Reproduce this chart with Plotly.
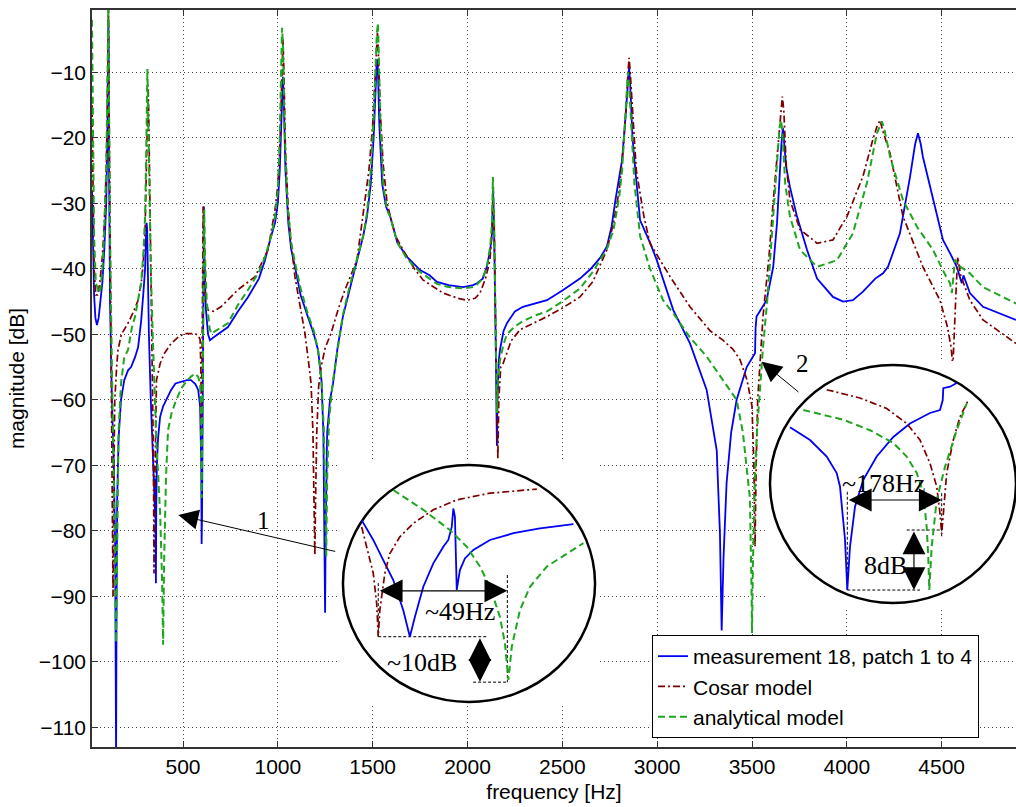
import plotly.graph_objects as go

# ---------------- main curves (frequency in Hz, magnitude in dB) ----------------
meas_f = [20, 25, 31, 38, 46, 55, 62, 75, 85, 95, 101, 104, 106, 108, 110, 115, 125, 135, 142, 145,
          147, 149, 153, 160, 173, 190, 210, 226, 247, 263, 279, 290, 300, 305, 308, 311, 314, 320, 330, 340,
          348, 352, 354, 355, 356, 357, 359, 362, 368, 379, 395, 420, 437, 460, 490, 520, 542, 565, 580, 590,
          596, 598, 600, 604, 607, 610, 613, 620, 632, 642, 660, 700, 737, 790, 843, 900, 932, 960, 985, 1000,
          1010, 1018, 1024, 1027, 1031, 1040, 1055, 1070, 1090, 1120, 1159, 1190, 1212, 1230, 1240, 1246, 1249, 1252, 1260, 1275,
          1291, 1315, 1343, 1380, 1417, 1450, 1470, 1490, 1505, 1515, 1522, 1527, 1535, 1550, 1570, 1592, 1630, 1681, 1750, 1800,
          1839, 1900, 1976, 2030, 2050, 2080, 2102, 2120, 2129, 2135, 2140, 2148, 2153, 2155, 2158, 2165, 2171, 2190, 2208, 2250,
          2292, 2350, 2419, 2500, 2593, 2650, 2700, 2735, 2760, 2780, 2800, 2815, 2830, 2842, 2852, 2858, 2870, 2885, 2910, 2962,
          2997, 3085, 3173, 3261, 3314, 3331, 3340, 3350, 3357, 3366, 3390, 3419, 3472, 3516, 3519, 3524, 3577, 3612, 3632, 3645,
          3655, 3663, 3670, 3680, 3700, 3737, 3790, 3843, 3927, 3980, 4032, 4085, 4150, 4191, 4217, 4280, 4333, 4360, 4375, 4390,
          4401, 4438, 4475, 4507, 4544, 4580, 4606, 4615, 4649, 4718, 4892]
meas_db = [-28, -38, -44, -47.5, -48.6, -47.5, -45.5, -42, -37, -30, -20, -8, -2, -6, -25, -45, -60, -70, -82, -95,
           -115, -95, -75, -66, -60, -57, -55.5, -55, -53.5, -52, -48, -44, -40, -35, -33, -34, -40, -50, -60, -68,
           -72, -77, -72, -78, -74, -88, -76, -70, -66, -62.6, -61, -59.5, -58.5, -57.5, -57.2, -57, -57, -57.6, -58.5, -61,
           -70, -82, -78, -60, -40, -30.5, -38, -46, -50, -50.9, -50.5, -49.6, -48.9, -46.5, -44.3, -41.5, -38.7, -35.5, -33, -30,
           -25, -18, -12, -10.7, -14, -25, -33, -37, -39.7, -44, -47.4, -50, -52.4, -57, -65, -78, -92.5, -80, -65, -60,
           -57.5, -52, -47.3, -43, -38.7, -35, -32, -27, -20, -13, -8, -9, -18, -27, -30.5, -32, -36, -38.2, -40.2, -41,
           -42, -42.5, -42.8, -42.5, -42.2, -41.5, -39.7, -37, -34.6, -28, -34, -50, -60, -67, -60, -54, -52.4, -49.5, -48.3, -46.5,
           -45.8, -45.3, -44.8, -43.3, -41.5, -40, -38.3, -36.6, -33.5, -29.5, -26, -23.4, -18, -13, -9.3, -12, -20, -25, -32.6, -36,
           -38.6, -46.3, -51.4, -58.5, -67.7, -80.4, -95.2, -84, -78, -72.7, -65, -60, -55, -52.9, -49, -47.3, -44.8, -39.7, -33, -26,
           -21, -18.5, -21, -24.4, -27.5, -32, -37.1, -41.5, -44.3, -45, -44.8, -43.5, -41.5, -40.7, -39.7, -34.6, -26, -21, -19.3, -21,
           -22.9, -27.5, -32, -35.6, -37.6, -39.7, -42.2, -41, -43.7, -45.8, -47.8]

cosar_f = [20, 25, 31, 40, 50, 62, 75, 85, 95, 100, 104, 107, 110, 115, 120, 125, 128, 131, 134, 140,
           150, 157, 175, 210, 240, 263, 280, 289, 300, 308, 313, 316, 319, 325, 332, 338, 342, 345, 347, 350,
           355, 360, 379, 400, 437, 480, 510, 563, 580, 590, 594, 597, 600, 603, 606, 610, 618, 632, 660, 700,
           790, 880, 948, 985, 1001, 1012, 1020, 1027, 1032, 1040, 1055, 1070, 1090, 1120, 1143, 1165, 1175, 1185, 1191, 1195,
           1199, 1205, 1215, 1228, 1250, 1280, 1320, 1354, 1417, 1449, 1480, 1500, 1512, 1520, 1525, 1530, 1540, 1555, 1576, 1620,
           1660, 1720, 1765, 1871, 1950, 1997, 2040, 2066, 2095, 2118, 2128, 2134, 2140, 2148, 2155, 2160, 2165, 2175, 2187, 2230,
           2277, 2350, 2419, 2500, 2593, 2660, 2735, 2770, 2800, 2820, 2835, 2846, 2852, 2858, 2870, 2890, 2930, 2962, 3068, 3173,
           3280, 3347, 3400, 3437, 3474, 3500, 3510, 3516, 3522, 3530, 3558, 3590, 3611, 3635, 3650, 3660, 3668, 3680, 3700, 3753,
           3843, 3927, 4001, 4085, 4140, 4159, 4175, 4190, 4228, 4296, 4401, 4491, 4530, 4550, 4559, 4568, 4578, 4585, 4600, 4649,
           4718, 4892]
cosar_db = [-15, -30, -40, -44, -44, -42, -38, -33, -25, -17, -5, 0, -15, -35, -48, -62, -75, -90, -75, -60,
            -55, -52.4, -50, -48.3, -46.5, -44.8, -42, -39.7, -34, -25, -15, -12, -16, -28, -40, -52, -65, -75, -86.5, -75,
            -62, -57, -54.5, -53, -51.4, -50.3, -49.9, -49.9, -50.2, -50.8, -55, -65, -55, -40, -30.5, -38, -45, -46.3, -46.5, -45.8,
            -43.2, -41.2, -37.1, -31, -27, -20, -10, -5, -10, -22, -31, -36, -41.2, -46, -49.9, -55, -57.5, -65, -75, -83.7,
            -75, -65, -58, -55, -52, -49.9, -46, -43.2, -38.7, -32, -25, -18, -11, -5, -4, -7, -16, -24, -30, -35,
            -37.1, -40, -41.7, -43.7, -44.5, -44.8, -44.5, -43.7, -41.5, -38.7, -35, -29, -32, -48, -60, -69, -60, -55, -54.5, -51,
            -49.3, -48.3, -47.3, -46, -44.3, -42, -37.1, -33, -28, -22, -16, -10, -7.8, -10, -16, -25, -32, -36.1, -41.2, -45.8,
            -49.5, -50.9, -52.3, -53.9, -57, -61, -70, -82.4, -70, -60, -47.3, -38, -30, -22, -16, -13.7, -16, -24, -29.5, -34,
            -36.1, -35.6, -32, -25.9, -20, -18.3, -17.3, -19, -22.4, -32, -39.7, -44.8, -48.8, -52, -55, -48, -42, -38.2, -41, -44.8,
            -47.8, -51.4]

anal_f = [20, 25, 31, 40, 55, 65, 75, 85, 95, 100, 104, 106, 109, 115, 125, 135, 142, 147, 152, 160,
          173, 190, 210, 230, 247, 263, 279, 290, 300, 306, 310, 312, 315, 320, 330, 340, 350, 360, 370, 380,
          390, 395, 400, 410, 421, 440, 458, 490, 510, 540, 563, 580, 590, 595, 598, 601, 605, 609, 612, 616,
          625, 640, 648, 700, 737, 790, 843, 900, 932, 965, 985, 1000, 1010, 1017, 1022, 1027, 1035, 1050, 1070, 1090,
          1120, 1159, 1190, 1212, 1230, 1243, 1250, 1255, 1260, 1270, 1291, 1320, 1343, 1380, 1417, 1450, 1470, 1490, 1505, 1515,
          1522, 1528, 1533, 1540, 1555, 1575, 1592, 1630, 1681, 1750, 1839, 1900, 1976, 2030, 2050, 2080, 2102, 2120, 2129, 2134,
          2140, 2148, 2155, 2160, 2171, 2190, 2208, 2250, 2292, 2350, 2419, 2500, 2593, 2660, 2735, 2770, 2800, 2815, 2830, 2840,
          2846, 2852, 2862, 2880, 2910, 2962, 3031, 3085, 3173, 3261, 3347, 3419, 3452, 3480, 3489, 3497, 3500, 3505, 3515, 3526,
          3558, 3580, 3611, 3630, 3645, 3653, 3660, 3675, 3700, 3753, 3843, 3948, 4032, 4106, 4159, 4185, 4200, 4228, 4296, 4370,
          4454, 4520, 4544, 4554, 4562, 4570, 4590, 4649, 4718, 4892]
anal_db = [-2, -20, -35, -42, -43.7, -43, -40, -34, -25, -15, -4, 0, -12, -35, -55, -70, -85, -97, -80, -65,
           -57.5, -53.5, -52.4, -49, -47.3, -44.5, -42.2, -38, -32, -22, -12, -9.5, -14, -25, -40, -50, -60, -67, -72, -78,
           -88, -97.4, -85, -72, -64.6, -62, -60.5, -58.3, -57.5, -56.5, -56, -56.5, -57.5, -62, -75, -62, -45, -33, -31, -38,
           -45, -49, -49.9, -49, -48.3, -45.5, -43.2, -40.5, -38.2, -35, -32, -28, -20, -10, -3.2, -6, -18, -30, -36, -39,
           -43, -47, -49.5, -52.5, -57, -65, -75, -84, -72, -63, -57, -51, -47, -42.5, -38.5, -35, -31.5, -25, -17, -9,
           -4, -2.5, -8, -17, -27, -31, -32, -36, -38.5, -40.5, -42.3, -42.8, -43, -42.8, -42.4, -41.5, -39.7, -36.5, -33, -26,
           -32, -48, -62, -57, -54, -51.5, -50, -48.8, -48, -47.2, -46.5, -45, -43, -40.5, -37, -34, -29, -25, -18, -13,
           -10, -12, -18, -27, -35, -40, -44.8, -46.8, -50.5, -53.4, -57, -60, -65, -72, -75, -88, -95.6, -85, -72, -65,
           -52, -45, -32, -24, -18.5, -17.3, -19, -27, -32, -37.1, -39.7, -38.7, -34.6, -26.9, -19.3, -17.5, -19, -22.9, -29.5, -33.6,
           -37.1, -41, -42.2, -43.7, -41, -38.6, -39.5, -40.7, -42.8, -45.3]

# ---------------- zoom inset 1 (around 350-400 Hz) ----------------
in1_meas_f = [340.7, 345.1, 348.9, 352.7, 356.5, 359.0, 360.9, 364.1, 367.9, 371.7, 373.6, 374.9, 375.5, 376.1,
              376.8, 378.0, 379.9, 383.1, 389.4, 398.3, 408.4, 421.1]
in1_meas_db = [-61.1, -65.5, -70.0, -74.4, -81.1, -87.0, -82.6, -75.9, -70.7, -67.0, -65.5, -62.6, -58.5, -60.3,
               -76.6, -72.2, -69.6, -67.7, -65.5, -64.0, -62.9, -62.0]
in1_cosar_f = [340.7, 343.2, 345.1, 346.4, 347.0, 347.6, 349.5, 351.4, 355.2, 360.3, 367.9, 376.8, 389.4, 407.2]
in1_cosar_db = [-62.6, -68.5, -72.9, -79.6, -87.0, -81.1, -72.9, -68.5, -64.8, -61.8, -58.8, -56.6, -55.1, -54.2]
in1_anal_f = [352.7, 364.1, 374.2, 380.6, 385.6, 389.4, 393.2, 395.1, 396.4, 397.7, 400.8, 404.6, 411.0, 418.6, 424.9]
in1_anal_db = [-54.4, -58.8, -63.3, -67.0, -71.4, -75.9, -82.6, -88.5, -96.6, -89.2, -81.1, -75.9, -71.4, -68.5, -66.2]

# ---------------- zoom inset 2 (around 3300-3550 Hz) ----------------
in2_meas_f = [3230.0, 3267.7, 3299.2, 3318.0, 3324.2, 3333.7, 3338.0, 3343.1, 3352.5, 3368.2, 3393.4, 3424.7,
              3456.2, 3493.9, 3512.8, 3517.9, 3519.0, 3531.8, 3544.3]
in2_meas_db = [-73.3, -75.0, -77.2, -79.4, -81.2, -88.3, -95.0, -89.2, -83.9, -80.3, -77.2, -74.6,
               -72.8, -71.4, -71.0, -69.7, -68.1, -67.9, -67.4]
in2_cosar_f = [3299.2, 3361.9, 3412.3, 3450.0, 3475.1, 3493.9, 3506.6, 3512.8, 3516.0, 3519.0, 3525.4, 3537.9, 3550.5, 3566.2]
in2_cosar_db = [-68.3, -69.4, -70.8, -72.8, -75.0, -78.1, -81.2, -84.8, -87.5, -84.8, -79.4, -75.0, -71.9, -69.7]
in2_anal_f = [3255.0, 3330.5, 3380.8, 3424.7, 3450.0, 3468.9, 3481.3, 3487.7, 3490.7, 3492.6, 3497.2, 3506.6,
              3522.2, 3544.3, 3563.2]
in2_anal_db = [-71.0, -72.3, -73.7, -75.4, -77.2, -79.4, -82.1, -86.6, -90.6, -95.0, -89.2, -83.0,
               -78.6, -73.7, -70.1]

x_ticks = [500, 1000, 1500, 2000, 2500, 3000, 3500, 4000, 4500]
y_ticks = [-110, -100, -90, -80, -70, -60, -50, -40, -30, -20, -10]
series_names = ["measurement 18, patch 1 to 4", "Cosar model", "analytical model"]

# ---------------- styles / geometry ----------------
W, H = 1016, 807
ML, MR, MT, MB = 92, 0, 10, 60
PW, PH = W - ML - MR, H - MT - MB

BLUE, RED, GREEN = "#0000f5", "#7d0000", "#1fa51f"
styles = [dict(color=BLUE, width=1.8, dash="solid"),
          dict(color=RED, width=1.7, dash="7px,3px,2px,3px"),
          dict(color=GREEN, width=2.0, dash="7px,4px")]
SANS = "Liberation Sans, Arial, sans-serif"
SERIF = "Liberation Serif, Times New Roman, serif"


def dom_x(p0, p1):
    return [(p0 - ML) / PW, (p1 - ML) / PW]


def dom_y(top, bottom):
    return [(H - MB - bottom) / PH, (H - MB - top) / PH]


fig = go.Figure()
for (fx, dy), name, st in zip([(meas_f, meas_db), (cosar_f, cosar_db), (anal_f, anal_db)], series_names, styles):
    fig.add_trace(go.Scatter(x=fx, y=dy, mode="lines", name=name, line=st, xaxis="x", yaxis="y"))

for ax, data in (("2", [(in1_meas_f, in1_meas_db), (in1_cosar_f, in1_cosar_db), (in1_anal_f, in1_anal_db)]),
                 ("3", [(in2_meas_f, in2_meas_db), (in2_cosar_f, in2_cosar_db), (in2_anal_f, in2_anal_db)])):
    for (fx, dy), st in zip(data, styles):
        fig.add_trace(go.Scatter(x=fx, y=dy, mode="lines", line=st, showlegend=False,
                                 xaxis="x" + ax, yaxis="y" + ax, hoverinfo="skip"))

axis_common = dict(showline=True, linecolor="#333", linewidth=1.5, ticks="inside", ticklen=6,
                   tickcolor="#333", showgrid=True, gridcolor="#444", gridwidth=1, griddash="1px,3px",
                   zeroline=False, tickfont=dict(family=SANS, size=21, color="black"))

inset_axis = dict(showline=False, showgrid=False, zeroline=False, showticklabels=False, ticks="",
                  fixedrange=True)

fig.update_layout(
    width=W, height=H, margin=dict(l=ML, r=MR, t=MT, b=MB),
    paper_bgcolor="white", plot_bgcolor="white",
    font=dict(family=SANS, size=21, color="black"),
    xaxis=dict(range=[20, 4892], tickvals=x_ticks, mirror="ticks",
               title=dict(text="frequency [Hz]", font=dict(family=SANS, size=21), standoff=7),
               **axis_common),
    yaxis=dict(range=[-113, -0.5], tickvals=y_ticks, mirror=False,
               title=dict(text="magnitude [dB]", font=dict(family=SANS, size=21), standoff=8),
               **axis_common),
    xaxis2=dict(domain=dom_x(339, 599), range=[332.1, 430.8], anchor="y2", **inset_axis),
    yaxis2=dict(domain=dom_y(461, 706), range=[-102.4, -47.95], anchor="x2", **inset_axis),
    xaxis3=dict(domain=dom_x(766, 1016), range=[3184.7, 3656.1], anchor="y3", **inset_axis),
    yaxis3=dict(domain=dom_y(361, 607), range=[-97.26, -64.47], anchor="x3", **inset_axis),
    legend=dict(x=(652 - ML) / PW, xanchor="left", y=(H - MB - 738) / PH, yanchor="bottom",
                bgcolor="white", bordercolor="black", borderwidth=1,
                font=dict(family=SANS, size=21, color="black"), tracegroupgap=0),
    showlegend=True,
)

shapes = [
    dict(type="circle", xref="x2", yref="y2", x0=333.6, x1=429.3, y0=-101.5, y1=-48.84,
         fillcolor="white", line=dict(color="black", width=2.5), layer="below"),
    dict(type="circle", xref="x3", yref="y3", x0=3192.2, x1=3656.1, y0=-96.73, y1=-65.0,
         fillcolor="white", line=dict(color="black", width=2.5), layer="below"),
]
dash_line = dict(color="black", width=1, dash="3px,2px")
for xr, yr, x0, y0, x1, y1 in [
    ("x2", "y2", 347, -75.1, 347, -87), ("x2", "y2", 396, -73.3, 396, -97.1),
    ("x2", "y2", 347, -87, 388.7, -87), ("x2", "y2", 383, -97.1, 396, -97.1),
    ("x3", "y3", 3338, -81.9, 3338, -95), ("x3", "y3", 3516, -82.1, 3516, -87.9),
    ("x3", "y3", 3450, -87, 3516, -87), ("x3", "y3", 3338, -95, 3475, -95)]:
    shapes.append(dict(type="line", xref=xr, yref=yr, x0=x0, y0=y0, x1=x1, y1=y1, line=dash_line, layer="below"))
# small bar between the heads of the 10 dB double arrow
shapes.append(dict(type="line", xref="x2", yref="y2", x0=382.2, x1=389.0, y0=-92.0, y1=-92.0,
                   line=dict(color="black", width=1.2), layer="below"))
fig.update_layout(shapes=shapes)

ann = []
# pointer arrows from the insets to the curves
for tip, tail, lab, labpos in [((475, -77.6), (1310, -83.2), "1", (923, -78.4)),
                               ((3551, -54.2), (3753, -59.0), "2", (3765, -54.5))]:
    ann.append(dict(x=tip[0], y=tip[1], ax=tail[0], ay=tail[1], xref="x", yref="y", axref="x", ayref="y",
                    text="", showarrow=True, arrowhead=2, arrowsize=4, arrowwidth=1, arrowcolor="black"))
    ann.append(dict(x=labpos[0], y=labpos[1], xref="x", yref="y", text=lab, showarrow=False,
                    font=dict(family=SERIF, size=25, color="black")))
# double arrows inside insets
for xr, yr, p0, p1 in [("x2", "y2", (347, -76.8), (396, -76.8)), ("x2", "y2", (385.6, -87), (385.6, -97)),
                       ("x3", "y3", (3338, -83.0), (3516, -83.0)), ("x3", "y3", (3463.7, -87), (3463.7, -95))]:
    ann.append(dict(x=p1[0], y=p1[1], ax=p0[0], ay=p0[1], xref=xr, yref=yr, axref=xr, ayref=yr,
                    text="", showarrow=True, arrowside="end+start", arrowhead=2, startarrowhead=2,
                    arrowsize=3.8, startarrowsize=3.8, arrowwidth=1.2, arrowcolor="black"))
for xr, yr, x, y, t in [("x2", "y2", 378.0, -81.5, "~49Hz"), ("x2", "y2", 363.6, -92.8, "~10dB"),
                        ("x3", "y3", 3405.9, -80.8, "~178Hz"), ("x3", "y3", 3409.1, -91.7, "8dB")]:
    ann.append(dict(x=x, y=y, xref=xr, yref=yr, text=t, showarrow=False,
                    font=dict(family=SERIF, size=26, color="black")))
fig.update_layout(annotations=ann)

fig.write_html("out.html")
